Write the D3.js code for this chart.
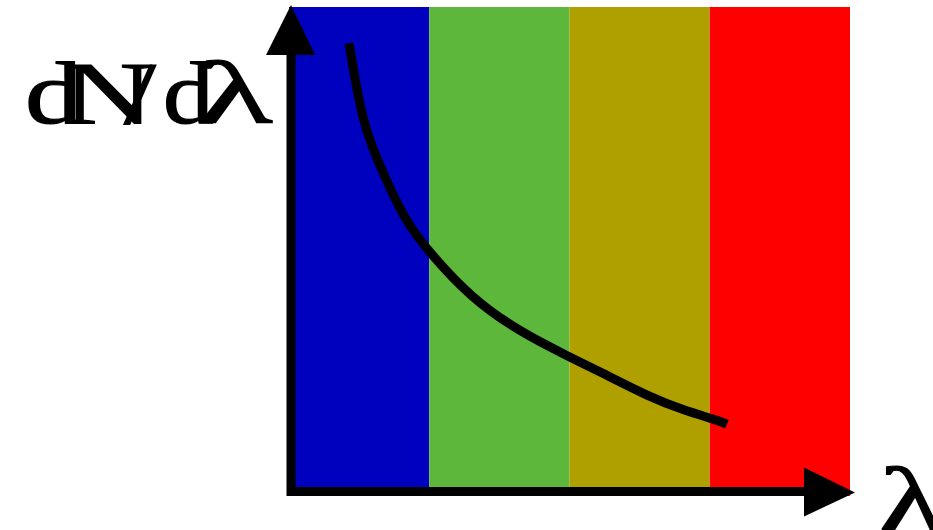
<!DOCTYPE html>
<html>
<head>
<meta charset="utf-8">
<script src="https://cdn.jsdelivr.net/npm/d3@7"></script>
<style>
  html, body { margin: 0; padding: 0; background: #ffffff; }
  svg { display: block; }
</style>
</head>
<body>
<svg id="chart" width="933" height="530"></svg>
<script>
// Spectral bands (wavelength in nm)
const bandStarts = [400, 500, 600, 700];
const bandEnds   = [500, 600, 700, 800];
const bandColors = ["#0000BF", "#5DB73A", "#AFA000", "#FF0000"];

// Photon distribution dN/dλ vs wavelength
const wavelengths = [442.8, 447.1, 452.8, 459.2, 467.0, 477.0, 486.3, 500.5, 529.1, 564.7, 600.4, 621.7, 657.4, 680.9, 705.2, 712.3];
const dNdl        = [92.6, 85.1, 76.9, 71.4, 66.1, 59.9, 55.0, 49.7, 40.7, 33.5, 28.4, 25.4, 20.2, 17.6, 15.5, 14.7];

// Axis titles
const yTitleChars = ["d", "N", "/", "d", "λ"];
const xTitle = "λ";

const svg = d3.select("#chart");

const x = d3.scaleLinear().domain([400, 800]).range([289, 850]);
const y = d3.scaleLinear().domain([0, 100]).range([496, 7]);

// colour bands
svg.append("g").selectAll("rect")
  .data(bandStarts.map((s, i) => ({ s, e: bandEnds[i], c: bandColors[i] })))
  .join("rect")
  .attr("x", d => x(d.s))
  .attr("y", y(100))
  .attr("width", d => x(d.e) - x(d.s))
  .attr("height", y(0) - y(100))
  .attr("fill", d => d.c);

// distribution curve
const line = d3.line()
  .x((d, i) => x(wavelengths[i]))
  .y(d => y(d))
  .curve(d3.curveBasis);

svg.append("path")
  .datum(dNdl)
  .attr("d", line)
  .attr("fill", "none")
  .attr("stroke", "#000")
  .attr("stroke-width", 9);

// axes with arrowheads
const x0 = x(400) + 2;
const yBase = y(0) - 4.5;
const axes = svg.append("g");
axes.append("line")
  .attr("x1", x0).attr("y1", y(0))
  .attr("x2", x0).attr("y2", 50)
  .attr("stroke", "#000").attr("stroke-width", 9);
axes.append("path")
  .attr("d", `M${x0},5 L${x0 - 25},55 L${x0 + 24},55 Z`)
  .attr("fill", "#000");
axes.append("line")
  .attr("x1", x(400) - 2).attr("y1", yBase)
  .attr("x2", 808).attr("y2", yBase)
  .attr("stroke", "#000").attr("stroke-width", 9);
axes.append("path")
  .attr("d", `M855,${yBase + 1} L804,${yBase - 24} L804,${yBase + 25} Z`)
  .attr("fill", "#000");

// y title: tightly packed, stretched serif glyphs
const glyphX  = [25, 62, 124, 163, 198];
const glyphSX = [1.3, 1.45, 1.3, 1.15, 1.75];
svg.append("g").selectAll("text")
  .data(yTitleChars)
  .join("text")
  .attr("transform", (d, i) => `translate(${glyphX[i]},123) scale(${glyphSX[i]},1)`)
  .attr("font-family", "'Liberation Serif', 'DejaVu Serif', serif")
  .attr("font-size", 88)
  .attr("fill", "#000")
  .attr("stroke", "#000")
  .attr("stroke-width", 1.2)
  .text(d => d);

// x title
svg.append("text")
  .attr("transform", "translate(879,530) scale(1.5,1)")
  .attr("font-family", "'Liberation Serif', 'DejaVu Serif', serif")
  .attr("font-size", 90)
  .attr("fill", "#000")
  .attr("stroke", "#000")
  .attr("stroke-width", 1.2)
  .text(xTitle);
</script>
</body>
</html>
